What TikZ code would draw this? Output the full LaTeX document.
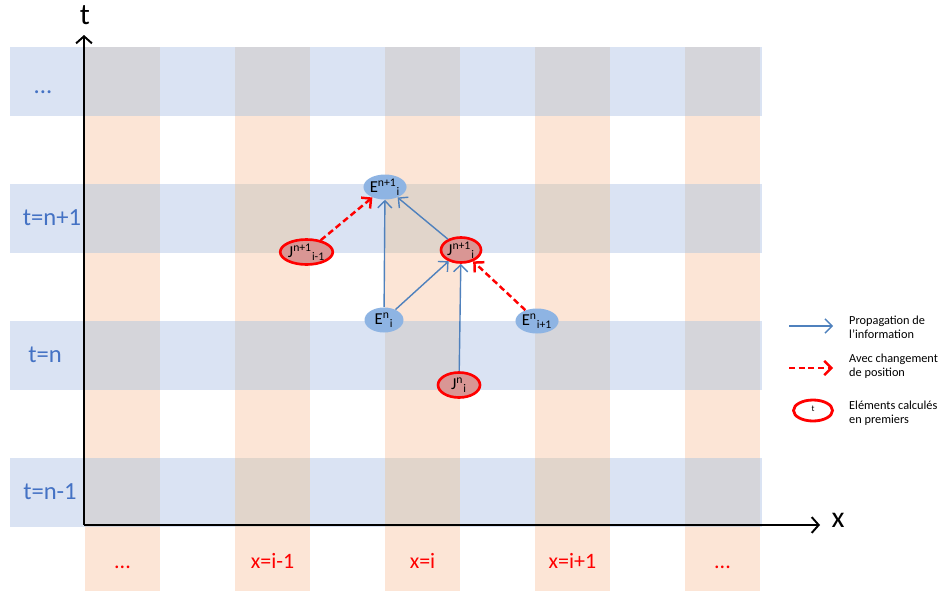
\documentclass[tikz,border=0pt]{standalone}
\usepackage{fontspec}
\setmainfont{Carlito}
\usepackage{xcolor}
\usetikzlibrary{shapes.geometric,arrows.meta,positioning}

\definecolor{bandblue}{HTML}{DAE3F3}
\definecolor{colorange}{HTML}{FCE5D6}
\definecolor{cellgray}{HTML}{D5D5DA}
\definecolor{cellbrown}{HTML}{E1D5CB}
\definecolor{nodeblue}{HTML}{8EB4E3}
\definecolor{nodered}{HTML}{D99694}
\definecolor{arrowblue}{HTML}{4F81BD}
\definecolor{labelblue}{HTML}{4472C4}
\newcommand{\pointsuite}{...}

\begin{document}
\begin{tikzpicture}[
  enode/.style={ellipse,fill=nodeblue,inner xsep=0pt,inner ysep=-2pt,
    minimum width=0.78cm,minimum height=0.5cm,font=\fontsize{9.5}{9.5}\selectfont},
  jnode/.style={ellipse,fill=nodered,draw=red,line width=1.5pt,inner xsep=0pt,inner ysep=-2pt,
    minimum width=0.84cm,minimum height=0.5cm,font=\fontsize{9.5}{9.5}\selectfont},
  prop/.style={draw=arrowblue,line width=0.8pt,-{Straight Barb[length=4pt,width=8pt]}},
  chg/.style={draw=red,line width=1.4pt,dash pattern=on 3.5pt off 2pt,
    -{Straight Barb[length=4pt,width=8pt]}},
  tlab/.style={text=labelblue,font=\fontsize{14}{14}\selectfont},
  xlab/.style={text=red,anchor=base,font=\fontsize{12.5}{12.5}\selectfont},
  legtext/.style={anchor=west,align=left,font=\fontsize{7}{7.8}\selectfont}]
  \useasboundingbox (0,0) rectangle (18.8,11.82);

  % grid of bands
  \foreach \r in {0,...,3}
    \fill[bandblue] (0.2,1.28+2.74*\r) rectangle ++(15.04,1.38);
  \foreach \c in {0,...,4}
    \fill[colorange] (1.7+3*\c,0) rectangle ++(1.5,10.86);
  \foreach \r in {0,...,3}
    \foreach \c in {0,...,4}
      \fill[cellgray] (1.7+3*\c,1.28+2.74*\r) rectangle ++(1.5,1.38);
  \foreach \r in {0,2}
    \foreach \c in {1,2,3}
      \fill[cellbrown] (1.7+3*\c,1.28+2.74*\r) rectangle ++(1.5,1.38);

  % axes
  \coordinate (origin) at (1.68,1.32);
  \coordinate (ttop) at (1.68,11.12);
  \coordinate (xend) at (16.4,1.32);
  \draw[line width=1.1pt,-{Straight Barb[length=4pt,width=9pt]}] (origin) -- (ttop);
  \draw[line width=1.1pt,-{Straight Barb[length=4pt,width=9pt]}] (origin) -- (xend);
  \node[font=\fontsize{17}{17}\selectfont] (tname) at (1.70,11.52) {t};
  \node[font=\fontsize{17}{17}\selectfont] (xname) at (16.76,1.42) {x};

  % row labels
  \node[tlab] (tdots) at (0.86,9.97) {\pointsuite};
  \node[tlab] (tnp) at (1.04,7.46) {t=n+1};
  \node[tlab] (tn) at (0.90,4.72) {t=n};
  \node[tlab] (tnm) at (1.00,1.98) {t=n-1};

  % column labels
  \foreach \c/\v in {0/\pointsuite,1/x=i-1,2/x=i,3/x=i+1,4/\pointsuite}
    \node[xlab] (xl\c) at (2.45+3*\c,0.46) {\v};

  % nodes
  \node[enode] (enext) at (7.70,8.08) {E\textsuperscript{n+1}\textsubscript{i}};
  \node[jnode,minimum width=0.94cm] (jprev) at (6.13,6.78) {J\textsuperscript{n+1}\textsubscript{i-1}};
  \node[jnode,minimum width=0.80cm] (jnext) at (9.22,6.82) {J\textsuperscript{n+1}\textsubscript{i}};
  \node[enode] (ecur) at (7.68,5.42) {E\textsuperscript{n}\textsubscript{i}};
  \node[enode] (eright) at (10.74,5.40) {E\textsuperscript{n}\textsubscript{i+1}};
  \node[jnode] (jcur) at (9.18,4.12) {J\textsuperscript{n}\textsubscript{i}};

  \draw[prop] (ecur) -- (enext);
  \draw[prop] (ecur) -- (jnext);
  \draw[prop] (jnext) -- (enext);
  \draw[prop] (jcur) -- (jnext);
  \draw[chg] (jprev) -- (enext);
  \draw[chg] (eright) -- (jnext);

  % legend
  \coordinate (la) at (15.78,5.30);
  \coordinate (lb) at (16.66,5.30);
  \draw[prop] (la) -- (lb);
  \node[legtext] (lta) at (16.86,5.28) {Propagation de\\l’information};
  \coordinate (lc) at (15.78,4.46);
  \coordinate (ld) at (16.66,4.46);
  \draw[chg] (lc) -- (ld);
  \node[legtext] (ltb) at (16.86,4.49) {Avec changement\\de position};
  \node[ellipse,draw=red,line width=1.6pt,inner sep=0pt,minimum width=0.78cm,minimum height=0.42cm,
    font=\fontsize{5}{5}\selectfont] (lell) at (16.26,3.61) {\raisebox{1.5pt}{t}};
  \node[legtext] (ltc) at (16.86,3.56) {Eléments calculés\\en premiers};
\end{tikzpicture}
\end{document}
